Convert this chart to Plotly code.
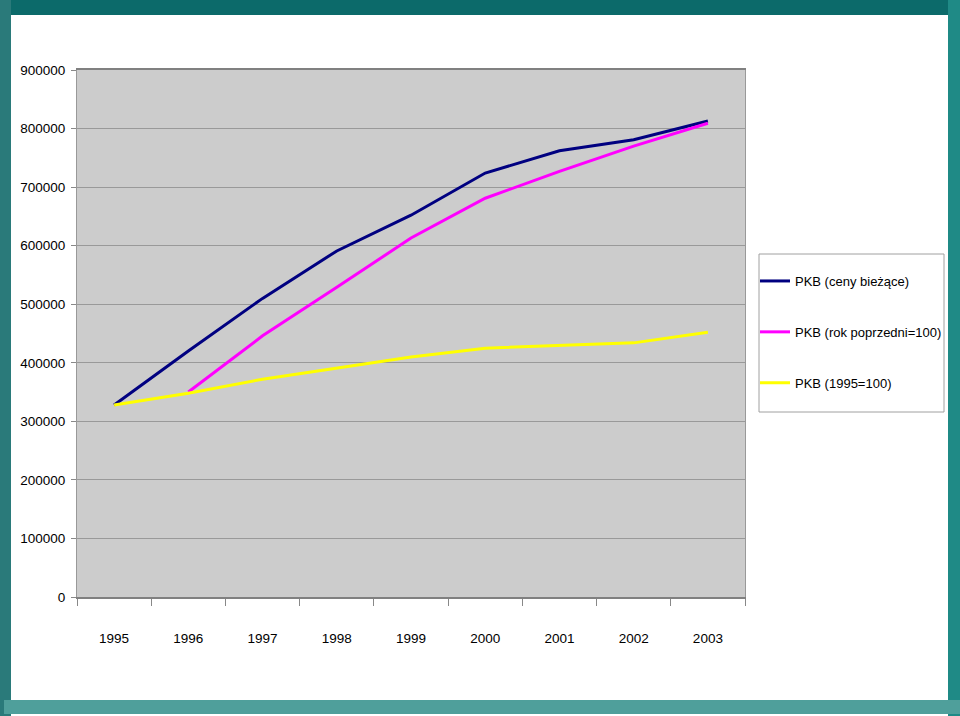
import plotly.graph_objects as go

years = ["1995", "1996", "1997", "1998", "1999", "2000", "2001", "2002", "2003"]
pkb_biezace = [328000, 420000, 510000, 591000, 652000, 724000, 762000, 781000, 813000]
pkb_rok_poprzedni = [None, 350000, 446000, 529000, 613000, 681000, 727000, 770000, 809000]
pkb_1995 = [328000, 348000, 372000, 391000, 410000, 425000, 429000, 434000, 452000]

names = ["PKB (ceny bieżące)", "PKB (rok poprzedni=100)", "PKB (1995=100)"]
colors = ["#000080", "#FF00FF", "#FFFF00"]
series = [pkb_biezace, pkb_rok_poprzedni, pkb_1995]
y_ticks = [0, 100000, 200000, 300000, 400000, 500000, 600000, 700000, 800000, 900000]

FONT = "Liberation Sans Narrow, Arial Narrow, Liberation Sans, Arial, sans-serif"

fig = go.Figure()
for i, (nm, col, vals) in enumerate(zip(names, colors, series)):
    fig.add_trace(go.Scatter(
        x=years, y=vals, mode="lines", name=nm,
        line=dict(color=col, width=3),
        legendgroup=f"g{i}",
    ))

W, H = 960, 716
L, R, T, B = 77, 745, 70, 597

def px_x(p):
    return (p - L) / (R - L)

def px_y(p):
    return (B - p) / (B - T)

frame = [
    (0, 0, 960, 15, "#0c6a6a"),
    (0, 0, 11, 716, "#2a7a7a"),
    (948, 0, 960, 716, "#1f8a86"),
    (4, 700, 960, 714, "#4f9f9b"),
]
shapes = []
# legend box
shapes.append(dict(type="rect", xref="paper", yref="paper",
                   x0=px_x(759), x1=px_x(944), y0=px_y(254), y1=px_y(412),
                   fillcolor="white", line=dict(color="#a0a0a0", width=1), layer="below"))
for x0, y0, x1, y1, c in frame:
    shapes.append(dict(type="rect", xref="paper", yref="paper",
                       x0=px_x(x0), x1=px_x(x1), y0=px_y(y0), y1=px_y(y1),
                       fillcolor=c, line=dict(width=0), layer="above"))

fig.update_layout(
    width=W, height=H,
    margin=dict(l=L, r=W - R, t=T, b=H - B, pad=0, autoexpand=False),
    paper_bgcolor="white",
    plot_bgcolor="#cccccc",
    font=dict(family=FONT, size=13.5, color="black"),
    showlegend=True,
    legend=dict(
        x=px_x(755), y=px_y(266), xanchor="left", yanchor="top",
        bgcolor="rgba(0,0,0,0)", borderwidth=0,
        font=dict(family=FONT, size=13, color="black"),
        tracegroupgap=31, traceorder="grouped",
    ),
    shapes=shapes,
    xaxis=dict(
        type="category", range=[-0.5, 8.5],
        showgrid=False, tickson="boundaries",
        ticks="outside", ticklen=7, tickcolor="#888888",
        showline=True, linecolor="#808080", linewidth=2, mirror=True,
        ticklabelstandoff=28,
        tickfont=dict(family=FONT, size=13.5),
    ),
    yaxis=dict(
        range=[0, 900000], tickvals=y_ticks,
        ticktext=[str(v) for v in y_ticks],
        showgrid=True, gridcolor="#999999", gridwidth=1,
        ticks="outside", ticklen=5, tickcolor="#888888",
        showline=True, linecolor="#999999", linewidth=1, mirror=True,
        zeroline=False,
        ticklabelstandoff=3,
        tickfont=dict(family=FONT, size=13.5),
    ),
)

fig.write_html("out.html")
